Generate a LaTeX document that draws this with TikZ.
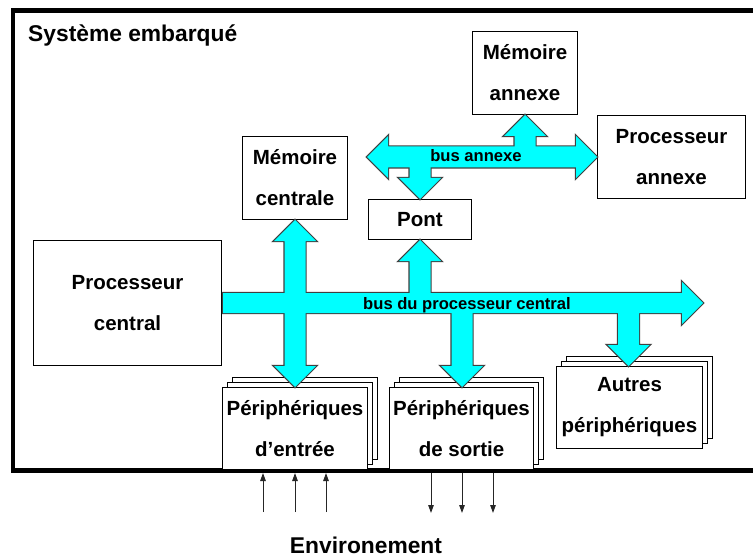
\documentclass[tikz,border=0pt]{standalone}
\usepackage{fontspec}
\setmainfont{Liberation Sans}
\usetikzlibrary{arrows.meta}
\definecolor{buscyan}{HTML}{00FFFF}
\definecolor{busline}{HTML}{404040}
\begin{document}
\begin{tikzpicture}[x=1pt,y=-1pt,
  box/.style={draw=black, line width=1.8pt, fill=white, inner sep=0pt, align=center,
    font=\fontsize{20.5}{41}\selectfont\bfseries},
  layer/.style={draw=black, line width=1.8pt, fill=white, inner sep=0pt},
  busedge/.style={fill=buscyan, draw=busline, line width=2.4pt, line join=miter},
  busfill/.style={fill=buscyan},
  envarrow/.style={-{Triangle[length=8pt,width=5.5pt]}, line width=1pt, draw=black!85},
  buslabel/.style={font=\fontsize{16.6}{20}\selectfont\bfseries, inner sep=0pt, anchor=base},
  biglabel/.style={font=\fontsize{22.8}{27}\selectfont\bfseries, inner sep=0pt}
]
\useasboundingbox (0,0) rectangle (753,559);
\fill[white] (0,0) rectangle (753,559);

% frame of the embedded system
\draw[line width=4.6pt, line join=miter] (753,10.5) -- (13,10.5) -- (13,470.5) -- (753,470.5);
\node[biglabel, anchor=base west] (title) at (28,42) {Système embarqué};

% boxes
\node[box, minimum width=105, minimum height=83] (mc) at (295,178) {Mémoire\\centrale};
\node[box, minimum width=105, minimum height=83] (ma) at (525,73) {Mémoire\\ annexe};
\node[box, minimum width=148, minimum height=83] (pa) at (671.5,157) {Processeur\\annexe};
\node[box, minimum width=103, minimum height=40] (pont) at (420,219.5) {Pont};
\node[box, minimum width=188, minimum height=125] (pc) at (127.5,303) {Processeur\\central};

% stacked peripheral boxes
\node[layer, minimum width=145, minimum height=82] (pe3) at (305,418.5) {};
\node[layer, minimum width=145, minimum height=82] (pe2) at (300,423.5) {};
\node[box, minimum width=145, minimum height=82] (pe) at (295,428.5) {Périphériques\\d’entrée};

\node[layer, minimum width=144, minimum height=82] (ps3) at (471.5,418.5) {};
\node[layer, minimum width=144, minimum height=82] (ps2) at (466.5,423.5) {};
\node[box, minimum width=144, minimum height=82] (ps) at (461.5,428.5) {Périphériques\\de sortie};

\node[layer, minimum width=146, minimum height=82] (ap3) at (639.5,397.5) {};
\node[layer, minimum width=146, minimum height=82] (ap2) at (634.5,402.5) {};
\node[box, minimum width=146, minimum height=82] (ap) at (629.5,407.5) {Autres\\périphériques};

% buses: outlines first (double width), then fill again to merge shapes
\foreach \st in {busedge, busfill}{
  % central bus
  \path[\st] (223,293) -- (682,293) -- (682,282) -- (703,303) -- (682,324) -- (682,313) -- (223,313) -- cycle;
  \path[\st] (295,220) -- (316,241) -- (305.5,241) -- (305.5,366) -- (316,366) -- (295,387)
     -- (274,366) -- (284.5,366) -- (284.5,241) -- (274,241) -- cycle;
  \path[\st] (420,240) -- (441,261) -- (430.5,261) -- (430.5,303) -- (409.5,303) -- (409.5,261) -- (399,261) -- cycle;
  \path[\st] (451.5,303) -- (472.5,303) -- (472.5,366) -- (483,366) -- (462,387) -- (441,366) -- (451.5,366) -- cycle;
  \path[\st] (618,303) -- (639,303) -- (639,345) -- (649.5,345) -- (628.5,366) -- (607.5,345) -- (618,345) -- cycle;
  % annex bus
  \path[\st] (367,157) -- (388,136) -- (388,146.5) -- (576,146.5) -- (576,136) -- (597,157)
     -- (576,178) -- (576,167.5) -- (388,167.5) -- (388,178) -- cycle;
  \path[\st] (525,115) -- (546,136) -- (535.5,136) -- (535.5,157) -- (514.5,157) -- (514.5,136) -- (504,136) -- cycle;
  \path[\st] (409.5,157) -- (430.5,157) -- (430.5,178) -- (441,178) -- (420,199) -- (399,178) -- (409.5,178) -- cycle;
}
\node[buslabel] (lba) at (476,162) {bus annexe};
\node[buslabel] (lbc) at (467,309) {bus du processeur central};

% environment
\node[biglabel, anchor=base] (env) at (366,553) {Environement};
\coordinate (i1s) at (263,512); \coordinate (i1e) at (263,473);
\coordinate (i2s) at (295,512); \coordinate (i2e) at (295,473);
\coordinate (i3s) at (326,512); \coordinate (i3e) at (326,473);
\coordinate (o1s) at (431,473); \coordinate (o1e) at (431,513);
\coordinate (o2s) at (462,473); \coordinate (o2e) at (462,513);
\coordinate (o3s) at (493,473); \coordinate (o3e) at (493,513);
\foreach \a in {i1,i2,i3,o1,o2,o3}{
  \draw[envarrow] (\a s) -- (\a e);
}
\end{tikzpicture}
\end{document}
